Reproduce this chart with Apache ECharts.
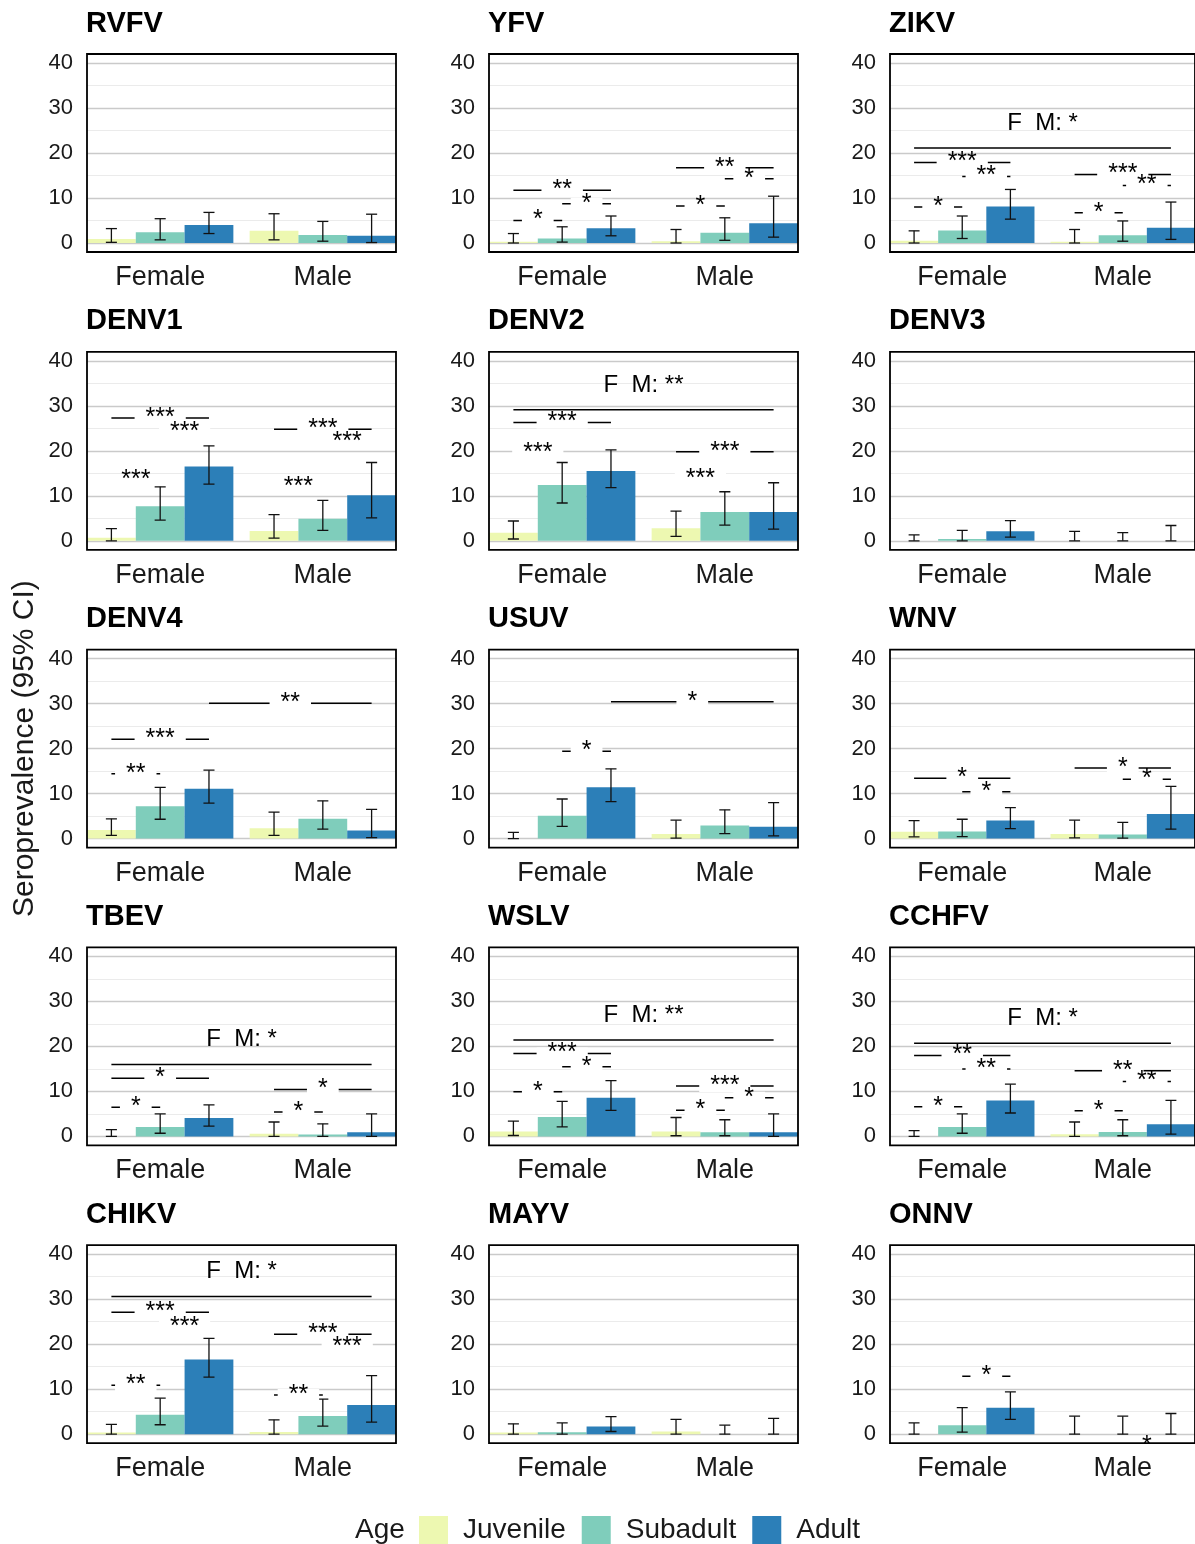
<!DOCTYPE html>
<html>
<head>
<meta charset="utf-8">
<script src="https://cdn.jsdelivr.net/npm/echarts@6/dist/echarts.min.js"></script>
<style>
html,body{margin:0;padding:0;background:#fff;}
#chart{width:1195px;height:1544px;}
</style>
</head>
<body>
<div id="chart"></div>
<script>
// ---------- data ----------
const viruses = ['RVFV','YFV','ZIKV','DENV1','DENV2','DENV3','DENV4','USUV','WNV','TBEV','WSLV','CCHFV','CHIKV','MAYV','ONNV'];
const sexes = ['Female','Male'];
const ages = ['Juvenile','Subadult','Adult'];
const yMajorTicks = [0,10,20,30,40];
const yMinorTicks = [5,15,25,35];
const xTicks = [1,2];

// columns: Female-Juvenile, Female-Subadult, Female-Adult, Male-Juvenile, Male-Subadult, Male-Adult
const estimate = [
  [0.9, 2.4, 4.0, 2.7, 1.8, 1.6],
  [0.3, 1.0, 3.3, 0.4, 2.3, 4.4],
  [0.5, 2.8, 8.1, 0.3, 1.7, 3.4],
  [0.7, 7.7, 16.5, 2.2, 4.9, 10.1],
  [1.8, 12.4, 15.5, 2.8, 6.4, 6.4],
  [0, 0.4, 2.1, 0, 0, 0],
  [1.9, 7.2, 11.1, 2.3, 4.4, 1.8],
  [0, 5.1, 11.4, 1.0, 2.9, 2.65],
  [1.5, 1.6, 4.05, 1.0, 0.9, 5.45],
  [0, 2.1, 4.1, 0.6, 0.45, 0.9],
  [1.1, 4.3, 8.6, 1.1, 0.9, 0.9],
  [0, 2.1, 8.0, 0.5, 1.0, 2.7],
  [0.4, 4.3, 16.6, 0.5, 4.05, 6.5],
  [0.4, 0.45, 1.7, 0.6, 0, 0],
  [0, 2.0, 5.9, 0, 0, 0]
];
const lowerCI = [
  [0.15, 0.7, 2.1, 0.7, 0.4, 0.1],
  [0, 0.2, 1.6, 0, 0.6, 1.3],
  [0, 1.0, 5.3, 0, 0.4, 0.8],
  [0, 4.6, 12.6, 0.6, 2.3, 5.1],
  [0.4, 8.4, 11.8, 1.0, 3.5, 2.6],
  [0, 0, 0.8, 0, 0, 0],
  [0.7, 4.3, 7.9, 0.7, 2.1, 0.2],
  [0, 2.7, 8.2, 0.1, 1.1, 0.6],
  [0.4, 0.45, 2.2, 0.15, 0.1, 2.1],
  [0, 0.7, 2.3, 0, 0, 0],
  [0.2, 2.1, 5.8, 0.15, 0.15, 0],
  [0, 0.7, 5.2, 0, 0.15, 0.5],
  [0, 2.1, 12.7, 0, 1.8, 2.7],
  [0, 0, 0.6, 0, 0, 0],
  [0, 0.45, 3.3, 0, 0, 0]
];
const upperCI = [
  [3.2, 5.4, 6.8, 6.5, 4.8, 6.4],
  [2.1, 3.6, 6.0, 3.0, 5.6, 10.4],
  [2.7, 6.0, 11.9, 3.0, 4.9, 9.1],
  [2.7, 12.0, 21.1, 5.8, 9.0, 17.4],
  [4.4, 17.4, 20.2, 6.6, 10.9, 12.9],
  [1.3, 2.3, 4.5, 2.1, 1.8, 3.4],
  [4.4, 11.4, 15.2, 5.9, 8.4, 6.5],
  [1.4, 8.8, 15.5, 4.1, 6.4, 8.0],
  [4.0, 4.3, 6.9, 4.1, 3.6, 11.6],
  [1.5, 5.0, 7.0, 3.2, 2.8, 5.0],
  [3.4, 7.8, 12.4, 4.2, 3.7, 5.0],
  [1.3, 5.0, 11.6, 3.2, 3.7, 8.0],
  [2.2, 8.0, 21.3, 3.2, 7.8, 13.0],
  [2.3, 2.5, 3.9, 3.3, 2.0, 3.5],
  [2.5, 5.9, 9.4, 4.0, 4.0, 4.6]
];

// pairwise tests: [virus, fromSlot, toSlot, y, label]  (slots as in the columns above)
const pairTests = [
  ['YFV',0,2,11.7,'**'],['YFV',1,2,8.7,'*'],['YFV',0,1,5.0,'*'],
  ['YFV',3,5,16.7,'**'],['YFV',4,5,14.3,'*'],['YFV',3,4,8.2,'*'],
  ['ZIKV',0,2,17.9,'***'],['ZIKV',1,2,14.8,'**'],['ZIKV',0,1,8.0,'*'],
  ['ZIKV',3,5,15.2,'***'],['ZIKV',4,5,12.8,'**'],['ZIKV',3,4,6.7,'*'],
  ['DENV1',0,2,27.3,'***'],['DENV1',1,2,24.2,'***'],['DENV1',0,1,13.5,'***'],
  ['DENV1',3,5,24.8,'***'],['DENV1',4,5,22.0,'***'],['DENV1',3,4,11.9,'***'],
  ['DENV2',0,2,26.3,'***'],['DENV2',0,1,19.5,'***'],
  ['DENV2',3,5,19.8,'***'],['DENV2',3,4,13.8,'***'],
  ['DENV4',2,5,30.1,'**'],['DENV4',0,2,22.1,'***'],['DENV4',0,1,14.4,'**'],
  ['USUV',2,5,30.4,'*'],['USUV',1,2,19.4,'*'],
  ['WNV',0,2,13.4,'*'],['WNV',1,2,10.4,'*'],['WNV',3,5,15.7,'*'],['WNV',4,5,13.2,'*'],
  ['TBEV',0,2,12.9,'*'],['TBEV',0,1,6.5,'*'],['TBEV',3,5,10.4,'*'],['TBEV',3,4,5.4,'*'],
  ['WSLV',0,2,18.4,'***'],['WSLV',1,2,15.5,'*'],['WSLV',0,1,9.9,'*'],
  ['WSLV',3,5,11.2,'***'],['WSLV',4,5,8.6,'*'],['WSLV',3,4,5.8,'*'],
  ['CCHFV',0,2,18.0,'**'],['CCHFV',1,2,15.0,'**'],['CCHFV',0,1,6.6,'*'],
  ['CCHFV',3,5,14.6,'**'],['CCHFV',4,5,12.2,'**'],['CCHFV',3,4,5.7,'*'],
  ['CHIKV',0,2,27.1,'***'],['CHIKV',1,2,23.9,'***'],['CHIKV',0,1,10.9,'**'],
  ['CHIKV',3,5,22.2,'***'],['CHIKV',4,5,19.4,'***'],['CHIKV',3,4,8.7,'**'],
  ['ONNV',1,2,12.9,'*'],['ONNV',4,5,-2.6,'*']
];
// female vs male overall tests: [virus, y, label]
const sexTests = [
  ['ZIKV',21.1,'F  M: *'],
  ['DENV2',29.1,'F  M: **'],
  ['TBEV',16.0,'F  M: *'],
  ['WSLV',21.4,'F  M: **'],
  ['CCHFV',20.7,'F  M: *'],
  ['CHIKV',30.6,'F  M: *']
];

// ---------- styling / layout ----------
const ageColors = ['#edf8b1','#7fcdbb','#2c7fb8'];
const FONT = '"Liberation Sans", Arial, Helvetica, sans-serif';
const colLeft = [87, 489, 890];
const rowTop0 = 54, rowStep = 297.8, gridW = 309, gridH = 198;
const dodge = 0.3, barHalf = 0.15, capHalf = 0.034;
const fmOffset = 5.5;

function slotX(s){ return 1 + Math.floor(s/3) + (s%3 - 1)*dodge; }

const grids = [], xAxes = [], yAxes = [], series = [], titles = [];

viruses.forEach((v, p) => {
  const col = p % 3, row = Math.floor(p / 3);
  const left = colLeft[col], top = rowTop0 + row*rowStep;
  grids.push({left: left, top: top, width: gridW, height: gridH, show: true,
    borderColor: '#000', borderWidth: 1.8, backgroundColor: 'transparent', z: 10, containLabel: false});
  titles.push({text: v, left: left - 1, top: top - 45, padding: 0,
    textStyle: {fontSize: 29, fontWeight: 'bold', color: '#000', fontFamily: FONT}});
  xAxes.push({type: 'value', gridIndex: p, min: 0.55, max: 2.45,
    axisLine: {show: false}, axisTick: {show: false, customValues: xTicks},
    splitLine: {show: false},
    axisLabel: {customValues: xTicks, formatter: val => sexes[Math.round(val) - 1],
      fontSize: 27, color: '#1a1a1a', margin: 12, fontFamily: FONT}});
  const mainY = {type: 'value', gridIndex: p, min: -2, max: 42,
    axisLine: {show: false}, axisTick: {show: false, customValues: yMajorTicks},
    axisLabel: {customValues: yMajorTicks, fontSize: 22, color: '#1a1a1a', margin: 14, fontFamily: FONT},
    splitLine: {show: true, lineStyle: {color: '#cacaca', width: 1.3}}};
  if (p === 6) {
    mainY.name = 'Seroprevalence (95% CI)';
    mainY.nameLocation = 'middle';
    mainY.nameRotate = 90;
    mainY.nameGap = 47;
    mainY.nameTextStyle = {fontSize: 30, color: '#1a1a1a', fontFamily: FONT};
  }
  yAxes.push(mainY);
  yAxes.push({type: 'value', gridIndex: p, min: -2, max: 42,
    axisLine: {show: false}, axisTick: {show: false, customValues: yMinorTicks},
    axisLabel: {show: false, customValues: yMinorTicks},
    splitLine: {show: true, lineStyle: {color: '#ebebeb', width: 1}}});

  // bars + error bars, one series per age class
  ages.forEach((ageName, a) => {
    const data = sexes.map((s, g) => [g + 1, estimate[p][g*3 + a], lowerCI[p][g*3 + a], upperCI[p][g*3 + a]]);
    series.push({
      type: 'custom', name: ageName, xAxisIndex: p, yAxisIndex: 2*p,
      itemStyle: {color: ageColors[a]},
      encode: {x: 0, y: [1, 2, 3]},
      clip: true, z: 3,
      data: data,
      renderItem: function(params, api){
        const g = api.value(0), val = api.value(1), lo = api.value(2), hi = api.value(3);
        const xc = g + (a - 1)*dodge;
        const p0 = api.coord([xc - barHalf, val]);
        const p1 = api.coord([xc + barHalf, 0]);
        const eTop = api.coord([xc, hi]);
        const eBot = api.coord([xc, lo]);
        const cL = api.coord([xc - capHalf, hi])[0];
        const cR = api.coord([xc + capHalf, hi])[0];
        const es = {stroke: '#111', lineWidth: 1.3};
        return {type: 'group', children: [
          {type: 'rect', shape: {x: p0[0], y: p0[1], width: p1[0] - p0[0], height: p1[1] - p0[1]},
            style: {fill: api.visual('color')}},
          {type: 'line', shape: {x1: eTop[0], y1: eTop[1], x2: eBot[0], y2: eBot[1]}, style: es},
          {type: 'line', shape: {x1: cL, y1: eTop[1], x2: cR, y2: eTop[1]}, style: es},
          {type: 'line', shape: {x1: cL, y1: eBot[1], x2: cR, y2: eBot[1]}, style: es}
        ]};
      }
    });
  });

  // significance annotations
  const items = [];
  pairTests.filter(t => t[0] === v).forEach(t => items.push({kind: 'pair', x1: slotX(t[1]), x2: slotX(t[2]), y: t[3], label: t[4]}));
  sexTests.filter(t => t[0] === v).forEach(t => items.push({kind: 'sex', x1: slotX(0), x2: slotX(5), y: t[1], label: t[2]}));
  if (items.length) {
    series.push({
      type: 'custom', xAxisIndex: p, yAxisIndex: 2*p, clip: true, z: 4,
      encode: {x: [0, 1], y: 2},
      data: items.map(it => [it.x1, it.x2, it.y]),
      renderItem: function(params, api){
        const it = items[params.dataIndex];
        const a = api.coord([it.x1, it.y]);
        const b = api.coord([it.x2, it.y]);
        const line = {type: 'line', shape: {x1: a[0], y1: a[1], x2: b[0], y2: b[1]},
          style: {stroke: '#000', lineWidth: 1.5}};
        if (it.kind === 'sex') {
          const t = api.coord([(it.x1 + it.x2)/2, it.y + fmOffset]);
          return {type: 'group', children: [line,
            {type: 'text', x: t[0], y: t[1], style: {text: it.label, align: 'center', verticalAlign: 'middle',
              fontSize: 24, fontFamily: FONT, fill: '#000'}}]};
        }
        const m = api.coord([(it.x1 + it.x2)/2, it.y]);
        return {type: 'group', children: [line,
          {type: 'text', x: m[0], y: m[1], style: {text: it.label, align: 'center', verticalAlign: 'middle',
            fontSize: 25, fontFamily: FONT, fill: '#000', backgroundColor: '#fff', padding: [0, 11], lineHeight: 12}}]};
      }
    });
  }
});

titles.push({text: 'Age', left: 355, top: 1516, padding: 0,
  textStyle: {fontSize: 28, fontWeight: 'normal', color: '#1a1a1a', fontFamily: FONT}});

const chart = echarts.init(document.getElementById('chart'), null, {renderer: 'canvas'});
chart.setOption({
  animation: false,
  backgroundColor: '#fff',
  textStyle: {fontFamily: FONT},
  title: titles,
  legend: {data: ages, left: 419, top: 1516, padding: 0, itemWidth: 29, itemHeight: 29, itemGap: 16,
    icon: 'rect', selectedMode: false,
    textStyle: {fontSize: 28, color: '#1a1a1a', fontFamily: FONT, padding: [0, 0, 0, 10]}},
  grid: grids,
  xAxis: xAxes,
  yAxis: yAxes,
  series: series
});
</script>
</body>
</html>
